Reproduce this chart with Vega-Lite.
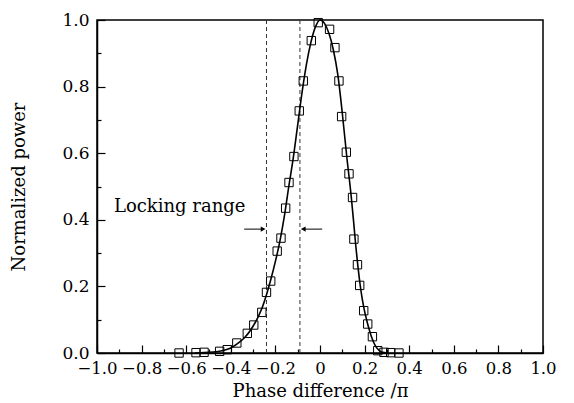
{
  "$schema": "https://vega.github.io/schema/vega-lite/v6.json",
  "width": 446,
  "height": 333,
  "autosize": {"type": "none"},
  "padding": {"left": 97, "top": 20, "right": 31, "bottom": 50},
  "background": "white",
  "config": {
    "view": {"stroke": "black", "strokeWidth": 1.5},
    "font": "DejaVu Serif",
    "axis": {
      "grid": false,
      "domainColor": "black",
      "domainWidth": 1.5,
      "tickColor": "black",
      "tickWidth": 1.2,
      "labelFont": "DejaVu Serif",
      "labelFontSize": 17,
      "labelColor": "black",
      "labelOverlap": false,
      "labelBound": false,
      "labelFlush": false,
      "titleFont": "DejaVu Serif",
      "titleFontSize": 18,
      "titleFontWeight": "normal",
      "titleColor": "black"
    }
  },
  "datasets": {
    "pts": [
      {"x": -0.632, "y": 0.0}, {"x": -0.556, "y": 0.001}, {"x": -0.52, "y": 0.002},
      {"x": -0.45, "y": 0.005}, {"x": -0.416, "y": 0.01}, {"x": -0.373, "y": 0.03},
      {"x": -0.326, "y": 0.059}, {"x": -0.297, "y": 0.084}, {"x": -0.261, "y": 0.122},
      {"x": -0.24, "y": 0.182}, {"x": -0.221, "y": 0.216}, {"x": -0.192, "y": 0.306},
      {"x": -0.175, "y": 0.345}, {"x": -0.154, "y": 0.435}, {"x": -0.139, "y": 0.512},
      {"x": -0.117, "y": 0.59}, {"x": -0.093, "y": 0.727}, {"x": -0.075, "y": 0.817},
      {"x": -0.039, "y": 0.938}, {"x": -0.008, "y": 0.992}, {"x": 0.043, "y": 0.972},
      {"x": 0.067, "y": 0.917}, {"x": 0.085, "y": 0.817}, {"x": 0.097, "y": 0.71},
      {"x": 0.118, "y": 0.603}, {"x": 0.13, "y": 0.538}, {"x": 0.146, "y": 0.467},
      {"x": 0.152, "y": 0.342}, {"x": 0.168, "y": 0.265}, {"x": 0.178, "y": 0.203},
      {"x": 0.196, "y": 0.127}, {"x": 0.214, "y": 0.087}, {"x": 0.235, "y": 0.049},
      {"x": 0.259, "y": 0.007}, {"x": 0.287, "y": 0.002}, {"x": 0.317, "y": 0.001},
      {"x": 0.354, "y": 0.0}
    ],
    "curve": [
      {"x": -0.56, "y": 0.0}, {"x": -0.52, "y": 0.001}, {"x": -0.48, "y": 0.003},
      {"x": -0.44, "y": 0.007}, {"x": -0.4, "y": 0.015}, {"x": -0.37, "y": 0.028},
      {"x": -0.34, "y": 0.045}, {"x": -0.31, "y": 0.07}, {"x": -0.28, "y": 0.105},
      {"x": -0.26, "y": 0.135}, {"x": -0.24, "y": 0.175}, {"x": -0.22, "y": 0.222},
      {"x": -0.2, "y": 0.275}, {"x": -0.18, "y": 0.335}, {"x": -0.16, "y": 0.41},
      {"x": -0.14, "y": 0.5}, {"x": -0.12, "y": 0.585}, {"x": -0.1, "y": 0.685},
      {"x": -0.08, "y": 0.785}, {"x": -0.06, "y": 0.87}, {"x": -0.04, "y": 0.935},
      {"x": -0.02, "y": 0.98}, {"x": 0.0, "y": 1.0}, {"x": 0.02, "y": 0.99},
      {"x": 0.04, "y": 0.96}, {"x": 0.06, "y": 0.91}, {"x": 0.08, "y": 0.835},
      {"x": 0.1, "y": 0.72}, {"x": 0.12, "y": 0.59}, {"x": 0.14, "y": 0.47},
      {"x": 0.15, "y": 0.4}, {"x": 0.16, "y": 0.325}, {"x": 0.17, "y": 0.26},
      {"x": 0.18, "y": 0.205}, {"x": 0.19, "y": 0.16}, {"x": 0.2, "y": 0.125},
      {"x": 0.21, "y": 0.097}, {"x": 0.22, "y": 0.072}, {"x": 0.23, "y": 0.05},
      {"x": 0.24, "y": 0.033}, {"x": 0.25, "y": 0.02}, {"x": 0.26, "y": 0.011},
      {"x": 0.27, "y": 0.005}, {"x": 0.28, "y": 0.002}, {"x": 0.3, "y": 0.0}
    ],
    "vlines": [{"x": -0.24, "kind": "left"}, {"x": -0.09, "kind": "right"}],
    "arrows": [
      {"x": -0.34, "x2": -0.255, "y": 0.372, "dir": "r"},
      {"x": 0.01, "x2": -0.075, "y": 0.372, "dir": "l"}
    ],
    "labels": [{"x": -0.924, "y": 0.438, "text": "Locking range"}]
  },
  "layer": [
    {
      "data": {"name": "vlines"},
      "mark": {"type": "rule", "color": "#333", "strokeWidth": 1, "strokeDash": [4, 3]},
      "encoding": {
        "x": {"field": "x", "type": "quantitative", "scale": {"domain": [-1, 1], "nice": false, "zero": false}, "axis": null}
      }
    },
    {
      "data": {"name": "arrows"},
      "mark": {"type": "rule", "color": "black", "strokeWidth": 1},
      "encoding": {
        "x": {"field": "x", "type": "quantitative", "axis": null},
        "x2": {"field": "x2"},
        "y": {"field": "y", "type": "quantitative", "axis": null}
      }
    },
    {
      "data": {"name": "arrows"},
      "mark": {"type": "point", "filled": true, "color": "black", "size": 30, "opacity": 1},
      "encoding": {
        "x": {"field": "x2", "type": "quantitative", "axis": null},
        "y": {"field": "y", "type": "quantitative", "axis": null},
        "shape": {"field": "dir", "type": "nominal", "scale": {"domain": ["r", "l"], "range": ["triangle-right", "triangle-left"]}, "legend": null}
      }
    },
    {
      "data": {"name": "labels"},
      "mark": {"type": "text", "align": "left", "baseline": "middle", "fontSize": 18, "font": "DejaVu Serif", "color": "black"},
      "encoding": {
        "x": {"field": "x", "type": "quantitative", "axis": null},
        "y": {"field": "y", "type": "quantitative", "axis": null},
        "text": {"field": "text"}
      }
    },
    {
      "data": {"name": "curve"},
      "mark": {"type": "line", "color": "black", "strokeWidth": 1.6, "interpolate": "monotone"},
      "encoding": {
        "x": {"field": "x", "type": "quantitative",
          "axis": {"orient": "bottom", "values": [-0.9, -0.7, -0.5, -0.3, -0.1, 0.1, 0.3, 0.5, 0.7, 0.9], "labels": false, "domain": false, "tickSize": -4, "title": null}},
        "y": {"field": "y", "type": "quantitative",
          "axis": {"orient": "left", "values": [0.1, 0.3, 0.5, 0.7, 0.9], "labels": false, "domain": false, "tickSize": -4, "title": null}}
      }
    },
    {
      "data": {"name": "pts"},
      "mark": {"type": "point", "shape": "square", "filled": false, "color": "black", "size": 70, "strokeWidth": 1, "opacity": 1},
      "encoding": {
        "x": {"field": "x", "type": "quantitative", "scale": {"domain": [-1, 1], "nice": false, "zero": false},
          "axis": {"orient": "bottom", "values": [-1, -0.8, -0.6, -0.4, -0.2, 0, 0.2, 0.4, 0.6, 0.8, 1],
            "labelExpr": "datum.value == 0 ? '0' : format(datum.value, '.1f')", "tickSize": -8, "labelPadding": 15,
            "labelFontSize": 16.5,
            "title": "Phase difference /π", "titlePadding": 6}},
        "y": {"field": "y", "type": "quantitative", "scale": {"domain": [0, 1], "nice": false, "zero": false},
          "axis": {"orient": "left", "values": [0, 0.2, 0.4, 0.6, 0.8, 1], "format": ".1f", "tickSize": -8, "labelPadding": 16,
            "title": "Normalized power", "titlePadding": 33}}
      }
    }
  ],
  "resolve": {"axis": {"x": "independent", "y": "independent"}}
}
